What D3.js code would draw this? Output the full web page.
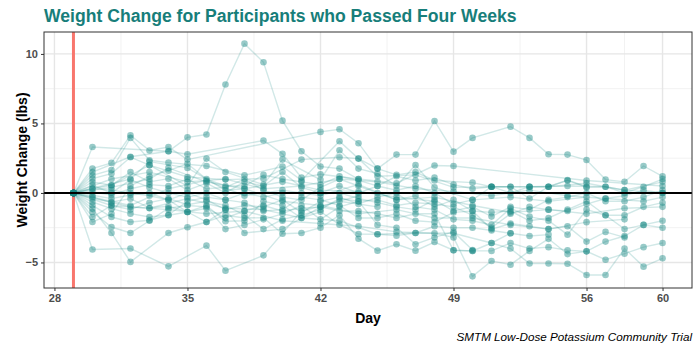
<!DOCTYPE html>
<html>
<head>
<meta charset="utf-8">
<script src="https://cdn.jsdelivr.net/npm/d3@7"></script>
<style>
  body { margin: 0; background: #fff; }
  svg text { font-family: "Liberation Sans", Arial, Helvetica, sans-serif; }
</style>
</head>
<body>
<div id="chart"></div>
<script>
// Tick labels
const xTicks = [28, 35, 42, 49, 56, 60];
const yTicks = [-5, 0, 5, 10];
const xMinor = [31.5, 38.5, 45.5, 52.5, 58];
const yMinor = [-2.5, 2.5, 7.5];
const startDay = 29;

// Participant trajectories: [day, weight change]
const p01 = [[30,1.5],[32,2.6],[34,3.0],[35,4.0],[36,4.2],[37,7.8],[38,10.74],[39,9.4],[40,5.2],[41,3.0],[42,1.9],[43,1.75],[44,1.0]];
const p02 = [[30,0.3],[31,0.55],[33,2.0],[35,1.15],[37,0.96],[39,1.03],[41,2.4],[43,2.57],[44,2.47],[45,1.75],[46,2.76],[47,2.76],[48,5.18],[49,2.97],[50,3.96],[52,4.77],[53,3.96],[54,2.78],[55,2.76],[56,2.37],[57,0.96],[58,0.8],[59,1.94],[60,1.2]];
const p03 = [[30,3.3],[34,3.0],[35,2.78],[39,3.77],[40,2.81],[41,1.1],[42,1.34],[44,1.0],[46,0.7],[48,1.97],[49,1.94],[56,0.9],[60,0.5]];
const p04 = [[30,1.75],[31,2.16],[32,4.15],[33,3.05],[34,3.3],[35,2.4],[42,4.39],[43,4.58],[44,3.58],[45,1.75],[46,1.3],[47,1.5],[48,0.9],[50,0.74],[51,0.45],[52,0.45],[53,0.45],[54,0.45],[55,0.93],[56,0.45]];
const p05 = [[30,1.27],[31,1.65],[32,3.96],[33,2.35],[34,2.18],[36,1.94],[38,1.27],[40,1.9],[41,0.9],[43,3.72],[44,2.47],[45,1.2],[47,1.3],[49,0.4],[51,0.45],[53,0.45],[55,0.5],[57,0.45],[58,0.2],[60,0.8]];
const p06 = [[30,1.03],[31,1.39],[32,2.57],[33,2.0],[35,0.5],[36,2.47],[37,1.51],[39,0.6],[40,2.4],[42,0.95],[43,3.07],[44,1.75],[45,1.4],[46,0.5],[47,2.0],[48,0.4],[50,-0.5],[52,-0.3],[54,-0.6],[56,-0.3]];
const p07 = [[30,0.79],[31,0.55],[32,1.5],[33,0.8],[34,1.03],[35,0.2],[36,0.7],[37,0.0],[38,0.8],[39,0.5],[40,1.5],[41,0.4],[42,0.0],[43,0.5],[44,0.0],[45,0.5],[46,0.2],[47,0.5],[48,0.0],[49,-0.8],[50,-0.5],[51,0.45],[52,0.45],[53,-0.4],[54,0.45],[56,0.7],[58,0.2],[60,0.0]];
const p08 = [[30,0.55],[31,0.0],[32,0.94],[33,0.4],[34,0.0],[35,-0.3],[36,0.0],[37,-0.5],[38,0.0],[39,-0.3],[40,0.0],[41,0.0],[42,0.0],[43,0.0],[44,-0.4],[45,-0.7],[46,-1.0],[47,-1.2],[48,-0.5],[49,-1.3],[50,-1.0],[51,-1.7],[52,-1.0],[53,-1.2],[54,-0.5],[55,-0.3],[56,0.0],[57,-0.6],[58,-0.6],[59,-0.3],[60,0.2]];
const p09 = [[30,0.07],[31,-0.15],[32,0.3],[33,0.6],[34,0.5],[35,1.0],[36,0.3],[37,0.4],[38,1.0],[39,0.2],[40,-0.3],[41,-0.5],[42,0.4],[43,1.0],[44,0.5],[45,0.0],[46,-0.5],[47,-0.2],[48,-1.0],[49,-0.5],[50,-1.3],[51,-1.4],[52,-1.3],[53,-2.0],[54,-1.8],[55,-1.2],[56,-0.6],[57,-1.6],[58,-2.6],[59,-2.3],[60,-2.0]];
const p10 = [[30,-0.17],[31,-0.41],[32,-0.15],[33,0.0],[34,-0.5],[35,0.0],[36,-0.5],[37,-1.2],[38,-0.9],[39,-1.0],[40,-0.5],[41,-1.4],[42,-0.6],[43,-0.3],[44,-0.8],[45,-0.3],[46,0.0],[47,-1.0],[48,-1.2],[49,-1.9],[50,-2.0],[51,-2.3],[52,-1.1],[53,-1.7],[54,-2.0],[55,-3.0],[56,-1.2],[57,-1.6],[58,-1.6],[59,-1.0],[60,-0.7]];
const p11 = [[30,-0.41],[31,-0.65],[32,-0.41],[33,-1.08],[34,-0.96],[35,-1.37],[36,-0.9],[37,-2.04],[38,-2.0],[39,-0.6],[40,-0.9],[41,-1.8],[42,-1.35],[43,-2.28],[44,-2.95],[45,-2.97],[46,-3.07],[47,-2.88],[48,-2.4],[49,-2.5],[50,-2.5],[51,-2.7],[52,-2.9],[53,-3.1],[54,-3.0]];
const p12 = [[30,-0.65],[31,-1.13],[32,-1.49],[33,-1.73],[34,-1.58],[35,-0.6],[36,-0.3],[37,-0.5],[38,-0.7],[39,-1.3],[40,-1.2],[41,-0.3],[42,-0.5],[43,-0.9],[44,-1.8],[45,-1.8],[46,-1.5],[47,-2.0],[48,-2.1],[49,-1.4],[50,-1.3],[51,-2.6],[52,-2.2],[53,-2.4],[54,-2.6],[55,-2.4],[56,-3.5],[57,-2.8],[58,-3.2]];
const p13 = [[30,-0.89],[31,-1.73],[32,-2.09],[33,-1.96],[34,-1.6],[35,-1.37],[36,-2.09],[37,-1.6],[38,-1.8],[39,-1.78],[40,-2.93],[41,-2.88],[42,-2.5],[43,-1.6],[44,-3.29],[45,-4.15],[46,-3.69],[47,-4.15],[48,-3.53],[49,-4.12],[50,-4.17],[51,-3.6],[52,-2.9]];
const p14 = [[30,-4.07],[32,-4.0],[34,-5.28],[36,-3.79],[37,-5.59],[39,-4.49],[41,-1.3],[43,-0.6],[45,-1.0]];
const p15 = [[30,-1.13],[31,-2.88],[32,-4.96],[34,-2.88],[35,-2.47],[36,-2.09],[37,-1.2],[38,-2.88],[40,-2.6],[42,-1.0],[44,-0.2]];
const p16 = [[30,-1.37],[31,-2.45],[32,-2.88],[33,-2.0],[34,-1.1],[35,-0.9],[36,-1.0],[37,-2.6],[38,-2.3],[39,-1.9],[40,-1.5],[41,-0.9],[42,-1.9],[43,-1.0],[44,-0.6],[45,-2.3],[46,-2.5],[47,-3.69],[48,-3.2],[49,-2.8],[50,-4.1]];
const p17 = [[30,-1.73],[31,-0.9],[32,-1.2],[33,-0.7],[34,-0.4],[35,-0.85],[36,-0.6],[37,-0.9],[38,-1.6],[39,-2.6],[40,-1.9],[41,-1.6],[42,-1.2],[43,-0.4],[44,-0.6],[45,-0.5],[46,-0.9],[47,-0.7],[48,-0.8],[49,-1.0],[50,-1.6],[51,-2.5],[52,-1.5],[53,-1.0],[54,-1.2],[55,-1.3],[56,-0.8],[57,-0.4],[58,-0.2],[59,0.2],[60,0.0]];
const p18 = [[30,-2.09],[31,-1.5],[32,0.5],[33,1.2],[34,1.6],[35,2.1],[36,1.0],[37,0.5],[38,0.5],[39,1.3],[40,1.0],[41,0.8],[42,0.6],[43,1.2],[44,0.9],[45,0.5],[46,1.2],[47,0.9],[48,1.1],[49,0.6],[50,0.3],[51,0.45],[52,0.0],[53,0.45],[54,0.45],[55,0.9],[56,0.4],[57,0.45],[58,0.0],[59,0.45],[60,1.0]];
const p19 = [[30,0.31],[31,0.2],[32,0.0],[33,-0.2],[34,-0.5],[35,-1.37],[36,-1.1],[37,-1.8],[38,-1.3],[39,-0.9],[40,-1.3],[41,-1.1],[42,-1.0],[43,-1.3],[44,-1.3],[45,-1.5],[46,-1.8],[47,-1.5],[48,-1.5],[49,-4.12],[50,-4.17],[51,-4.17],[52,-3.6],[53,-4.0],[54,-3.9],[55,-4.12],[56,-4.2],[57,-3.5],[58,-3.1],[59,-2.3],[60,-2.5]];
const p20 = [[30,-0.3],[31,-0.7],[32,-1.0],[34,-1.2],[36,-1.5],[38,-1.3],[40,-2.0],[42,-2.2],[44,-2.4],[46,-2.8],[48,-2.9],[49,-3.2],[50,-6.0],[51,-4.89],[52,-5.16],[53,-4.17],[54,-3.3],[55,-4.4],[56,-4.2],[57,-4.8],[58,-4.37],[59,-3.9],[60,-3.6]];
const p21 = [[31,-0.9],[33,-1.1],[35,-0.4],[37,-1.1],[39,-1.2],[41,-1.8],[43,-2.0],[45,-2.97],[47,-2.88],[49,-2.9],[51,-3.6],[52,-4.0],[53,-5.08],[54,-5.08],[55,-5.09],[56,-5.9],[57,-5.9],[58,-4.0],[59,-5.3],[60,-4.7]];
const p22 = [[31,1.0],[33,1.5],[35,0.8],[37,1.0],[39,0.3],[41,0.5],[43,1.0],[45,0.8],[47,0.3],[49,0.1],[51,-0.2],[53,0.2],[55,-0.2],[57,-0.4],[59,-0.6],[60,-0.3]];
const p23 = [[32,-0.9],[34,0.3],[36,0.9],[38,-0.2],[40,0.2],[42,-0.2],[44,0.6],[46,-0.5],[48,-0.3],[50,-0.9],[52,-1.4],[54,-1.2],[56,-1.5],[58,-1.1],[60,-1.0]];
const p24 = [[32,1.0],[33,2.25],[35,1.8],[37,0.2],[38,0.3],[40,-0.6],[42,-0.9],[44,-1.5],[46,-1.2],[48,-1.8],[50,-1.8],[52,-2.3],[54,-2.6],[56,-2.1],[58,-1.9]];
const p25 = [[31,0.4],[33,1.0],[34,1.8],[36,0.8],[38,0.3],[40,0.8],[42,0.2],[44,0.1],[46,-0.3],[48,-0.6]];

const participants = [p01,p02,p03,p04,p05,p06,p07,p08,p09,p10,p11,p12,p13,p14,p15,p16,p17,p18,p19,p20,p21,p22,p23,p24,p25];

function drawChart() {
    const width = 700, height = 350;
    const margin = {top: 32, right: 8, bottom: 62, left: 44};
    const innerWidth = width - margin.left - margin.right;
    const innerHeight = height - margin.top - margin.bottom;

    const teal = '#1b8a85';

    // Every participant starts from the baseline day at zero
    const series = participants.map(p => [[startDay, 0]].concat(p));
    const allPts = series.flat();

    // ggplot-style 5% expansion
    const xExt = d3.extent(allPts, d => d[0]);
    const yExt = d3.extent(allPts, d => d[1]);
    const xPad = (xExt[1] - xExt[0]) * 0.05;
    const yPad = (yExt[1] - yExt[0]) * 0.05;

    const xScale = d3.scaleLinear()
        .domain([xExt[0] - xPad, xExt[1] + xPad])
        .range([0, innerWidth]);
    const yScale = d3.scaleLinear()
        .domain([yExt[0] - yPad, yExt[1] + yPad])
        .range([innerHeight, 0]);

    const svg = d3.select('#chart').append('svg')
        .attr('width', width)
        .attr('height', height);

    const g = svg.append('g')
        .attr('transform', `translate(${margin.left},${margin.top})`);

    // Grid lines
    g.selectAll('.xminor').data(xMinor).enter().append('line')
        .attr('x1', d => xScale(d)).attr('x2', d => xScale(d))
        .attr('y1', 0).attr('y2', innerHeight)
        .attr('stroke', '#f2f2f2').attr('stroke-width', 1);
    g.selectAll('.yminor').data(yMinor).enter().append('line')
        .attr('y1', d => yScale(d)).attr('y2', d => yScale(d))
        .attr('x1', 0).attr('x2', innerWidth)
        .attr('stroke', '#f2f2f2').attr('stroke-width', 1);
    g.selectAll('.xmajor').data(xTicks).enter().append('line')
        .attr('x1', d => xScale(d)).attr('x2', d => xScale(d))
        .attr('y1', 0).attr('y2', innerHeight)
        .attr('stroke', '#e6e6e6').attr('stroke-width', 1.4);
    g.selectAll('.ymajor').data(yTicks).enter().append('line')
        .attr('y1', d => yScale(d)).attr('y2', d => yScale(d))
        .attr('x1', 0).attr('x2', innerWidth)
        .attr('stroke', '#e6e6e6').attr('stroke-width', 1.4);

    // Start day marker
    g.append('line')
        .attr('x1', xScale(startDay)).attr('x2', xScale(startDay))
        .attr('y1', 0).attr('y2', innerHeight)
        .attr('stroke', '#f8766d').attr('stroke-width', 3);

    // Participant lines
    const line = d3.line()
        .x(d => xScale(d[0]))
        .y(d => yScale(d[1]));

    g.selectAll('.trace').data(series).enter().append('path')
        .attr('d', line)
        .attr('fill', 'none')
        .attr('stroke', teal)
        .attr('stroke-opacity', 0.2)
        .attr('stroke-width', 1.4);

    // Points
    g.selectAll('.dot').data(allPts).enter().append('circle')
        .attr('cx', d => xScale(d[0]))
        .attr('cy', d => yScale(d[1]))
        .attr('r', 3.3)
        .attr('fill', teal)
        .attr('fill-opacity', 0.45);

    // Zero line on top of the points
    g.append('line')
        .attr('x1', 0).attr('x2', innerWidth)
        .attr('y1', yScale(0)).attr('y2', yScale(0))
        .attr('stroke', '#000').attr('stroke-width', 2);

    // Panel border
    g.append('rect')
        .attr('width', innerWidth).attr('height', innerHeight)
        .attr('fill', 'none').attr('stroke', '#333').attr('stroke-width', 1);

    // Axes
    const xAxis = g.append('g')
        .attr('transform', `translate(0,${innerHeight})`)
        .call(d3.axisBottom(xScale).tickValues(xTicks).tickSize(3).tickPadding(3));
    const yAxis = g.append('g')
        .call(d3.axisLeft(yScale).tickValues(yTicks).tickSize(3).tickPadding(3));
    [xAxis, yAxis].forEach(ax => {
        ax.select('.domain').remove();
        ax.selectAll('line').attr('stroke', '#333');
        ax.selectAll('text')
            .attr('fill', '#4d4d4d')
            .style('font-size', '11px')
            .style('font-weight', 'bold');
    });

    // Titles
    svg.append('text')
        .attr('x', margin.left)
        .attr('y', 22)
        .attr('fill', '#177e7a')
        .style('font-size', '17.6px')
        .style('font-weight', 'bold')
        .text('Weight Change for Participants who Passed Four Weeks');

    svg.append('text')
        .attr('x', margin.left + innerWidth / 2)
        .attr('y', 323)
        .attr('text-anchor', 'middle')
        .style('font-size', '14px')
        .style('font-weight', 'bold')
        .text('Day');

    svg.append('text')
        .attr('transform', `translate(27,${margin.top + innerHeight / 2}) rotate(-90)`)
        .attr('text-anchor', 'middle')
        .style('font-size', '14px')
        .style('font-weight', 'bold')
        .text('Weight Change (lbs)');

    svg.append('text')
        .attr('x', width - 8)
        .attr('y', 341)
        .attr('text-anchor', 'end')
        .style('font-size', '11.7px')
        .style('font-style', 'italic')
        .text('SMTM Low-Dose Potassium Community Trial');
}

drawChart();
</script>
</body>
</html>
